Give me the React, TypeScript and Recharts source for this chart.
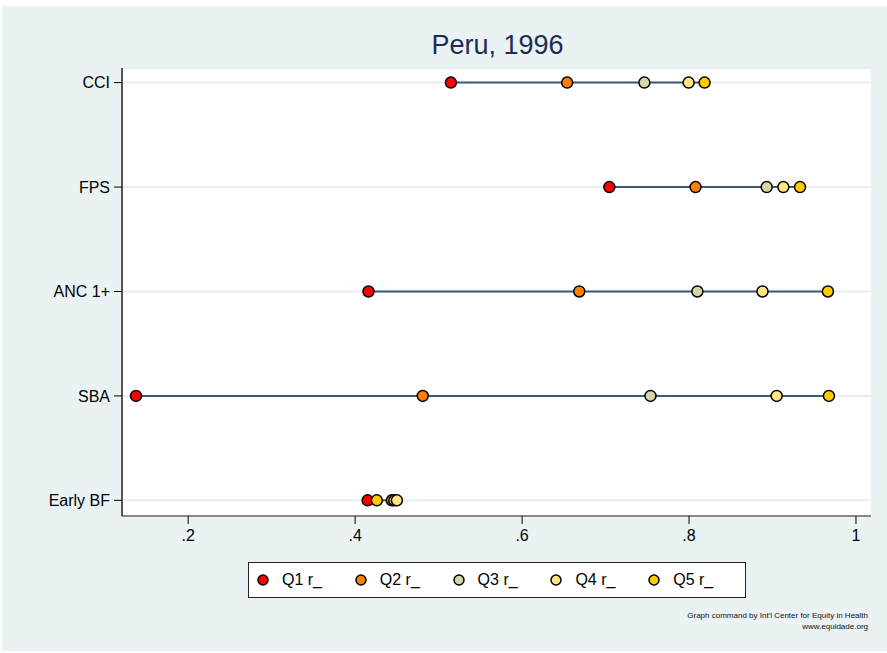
import {
  ComposedChart,
  Scatter,
  XAxis,
  YAxis,
  CartesianGrid,
} from "recharts";

const indicators = ["Early BF", "SBA", "ANC 1+", "FPS", "CCI"];
const seriesNames = ["Q1 r_", "Q2 r_", "Q3 r_", "Q4 r_", "Q5 r_"];
const seriesColors = ["#ff0000", "#ff7f00", "#d6d6a8", "#ffe680", "#ffcc00"];

// one value per indicator, in the same order as `indicators`
const q1 = [0.415, 0.1375, 0.416, 0.7045, 0.5147];
const q2 = [0.444, 0.481, 0.6685, 0.8078, 0.654];
const q3 = [0.447, 0.7538, 0.81, 0.893, 0.7465];
const q4 = [0.45, 0.905, 0.888, 0.913, 0.7995];
const q5 = [0.426, 0.9676, 0.9664, 0.933, 0.8186];

const xTicks = [0.2, 0.4, 0.6, 0.8, 1];

const quintiles = [q1, q2, q3, q4, q5];

const seriesData = quintiles.map((vals) =>
  vals.map((v, i) => ({ x: v, y: i + 1 }))
);

const rangeData = indicators.map((_, i) => {
  const vals = quintiles.map((q) => q[i]);
  return [
    { x: Math.min(...vals), y: i + 1 },
    { x: Math.max(...vals), y: i + 1 },
  ];
});

const fmtX = (v: number) => (v === 1 ? "1" : String(v).replace(/^0/, ""));

const Dot = (props: any) => {
  const { cx, cy, fill } = props;
  if (cx == null || cy == null) return null;
  return <circle cx={cx} cy={cy} r={5.5} fill={fill} stroke="#000" strokeWidth={1.5} />;
};

const LegendBox = () => (
  <div
    style={{
      position: "absolute",
      left: 248,
      top: 562,
      width: 498,
      height: 36,
      border: "1px solid #222",
      background: "#fff",
      display: "flex",
      alignItems: "center",
      boxSizing: "border-box",
      paddingLeft: 7,
      fontSize: 16,
      color: "#000",
    }}
  >
    {seriesNames.map((n, i) => (
      <div key={n} style={{ display: "flex", alignItems: "center", width: 102 }}>
        <svg width={14} height={14} style={{ marginRight: 12 }}>
          <circle cx={7} cy={7} r={5} fill={seriesColors[i]} stroke="#000" strokeWidth={1.5} />
        </svg>
        <span>{n}</span>
      </div>
    ))}
  </div>
);

export default function App() {
  return (
    <div
      style={{
        position: "absolute",
        left: 0,
        top: 0,
        width: 887,
        height: 653,
        background: "#fff",
        fontFamily: "Arial, 'Liberation Sans', sans-serif",
      }}
    >
      <div
        style={{
          position: "absolute",
          left: 2,
          top: 6,
          width: 885,
          height: 645,
          background: "#eaf2f3",
        }}
      />
      <div
        style={{
          position: "absolute",
          left: 0,
          top: 30,
          width: 887,
          textAlign: "center",
          fontSize: 27,
          color: "#1e2c55",
          paddingLeft: 108,
          boxSizing: "border-box",
        }}
      >
        Peru, 1996
      </div>
      <div style={{ position: "absolute", left: 0, top: 0 }}>
        <ComposedChart
          width={887}
          height={653}
          margin={{ top: 68, right: 16, bottom: 107, left: 42 }}
        >
          <CartesianGrid
            vertical={false}
            stroke="#e6eef1"
            strokeWidth={2}
            fill="#fff"
            fillOpacity={1}
          />
          <XAxis
            type="number"
            dataKey="x"
            domain={[0.1207, 1.018]}
            ticks={xTicks}
            tickFormatter={fmtX}
            allowDataOverflow
            axisLine={{ stroke: "#666", strokeWidth: 1.5 }}
            tickLine={{ stroke: "#000" }}
            tickSize={8}
            tick={{ fill: "#000", fontSize: 16 }}
            tickMargin={6}
            height={30}
          />
          <YAxis
            type="number"
            dataKey="y"
            domain={[0.85, 5.14]}
            ticks={[1, 2, 3, 4, 5]}
            tickFormatter={(v: number) => indicators[v - 1] ?? ""}
            allowDataOverflow
            axisLine={{ stroke: "#222", strokeWidth: 1.5 }}
            tickLine={{ stroke: "#000" }}
            tickSize={8}
            tickMargin={4}
            tick={{ fill: "#000", fontSize: 16 }}
            width={80}
          />
          {rangeData.map((d, i) => (
            <Scatter
              key={"r" + i}
              data={d}
              line={{ stroke: "#3b5a78", strokeWidth: 2 }}
              shape={() => <g />}
              isAnimationActive={false}
              legendType="none"
            />
          ))}
          {seriesData.map((d, i) => (
            <Scatter
              key={seriesNames[i]}
              name={seriesNames[i]}
              data={d}
              fill={seriesColors[i]}
              shape={<Dot />}
              isAnimationActive={false}
            />
          ))}
        </ComposedChart>
      </div>
      <LegendBox />
      <div
        style={{
          position: "absolute",
          right: 19,
          top: 610,
          textAlign: "right",
          fontSize: 8,
          lineHeight: "11px",
          color: "#111",
        }}
      >
        Graph command by Int'l Center for Equity in Health
        <br />
        www.equidade.org
      </div>
    </div>
  );
}
